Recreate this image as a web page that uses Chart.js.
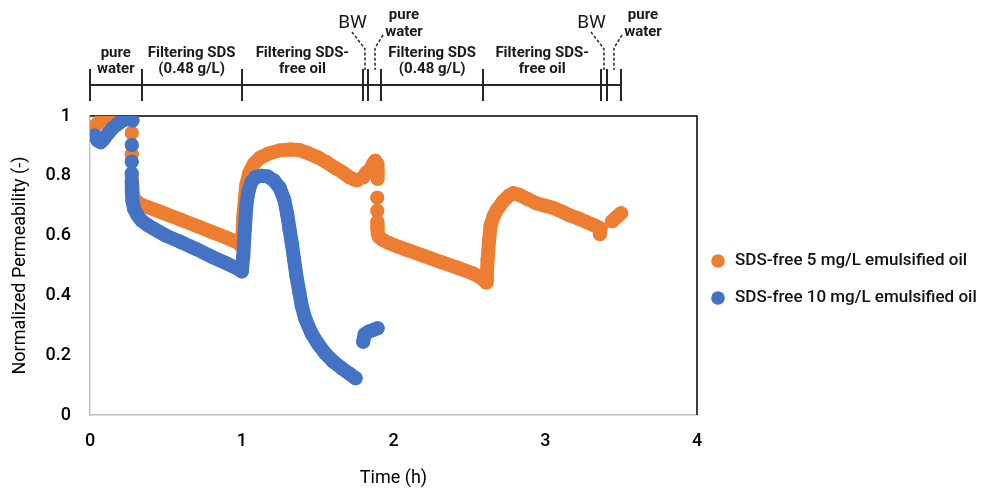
<!DOCTYPE html>
<html>
<head>
<meta charset="utf-8">
<script src="https://cdn.jsdelivr.net/npm/chart.js@4"></script>
<style>
  html, body { margin: 0; padding: 0; background: #fff; }
</style>
</head>
<body>
<canvas id="myChart" width="985" height="489"></canvas>
<script>
// time (h) and normalized permeability; null breaks the trace
const orangeTime = [
  0.01, 0.03, 0.05, 0.07, 0.09, 0.12, 0.15, 0.18, 0.21, 0.24, 0.26, null,
  0.275, null, 0.275, null,
  0.275, 0.277, 0.28, 0.29, 0.31, 0.34, 0.38, 0.43, 0.50, 0.60, 0.70, 0.80, 0.90, 0.97, 1.00,
  1.005, 1.01, 1.02, 1.03, 1.05, 1.08, 1.12, 1.18, 1.25, 1.32, 1.38, 1.44, 1.50, 1.56, 1.62,
  1.67, 1.71, 1.74, 1.76, null,
  1.80, 1.82, 1.845, 1.865, 1.88, 1.893, 1.895, 1.895, null,
  1.893, null, 1.893, null,
  1.893, 1.894, 1.897, 1.905, 1.93, 1.97, 2.03, 2.09, 2.20, 2.31, 2.42, 2.52, 2.58, 2.61,
  2.615, 2.62, 2.63, 2.64, 2.66, 2.68, 2.72, 2.76, 2.79, 2.83, 2.88, 2.94, 3.00, 3.05, 3.11,
  3.16, 3.22, 3.27, 3.32, 3.365, 3.36, null,
  3.44, 3.47, 3.50
];
const orangePerm = [
  0.95, 0.965, 0.975, 0.985, 0.99, 0.995, 1.0, 1.0, 1.0, 0.995, 0.99, null,
  0.943, null, 0.872, null,
  0.80, 0.77, 0.745, 0.725, 0.712, 0.703, 0.695, 0.686, 0.672, 0.653, 0.633, 0.613, 0.593, 0.578, 0.565,
  0.60, 0.66, 0.72, 0.77, 0.81, 0.84, 0.86, 0.875, 0.885, 0.888, 0.886, 0.875, 0.862, 0.845, 0.825,
  0.81, 0.795, 0.788, 0.785, null,
  0.795, 0.81, 0.82, 0.84, 0.85, 0.84, 0.815, 0.79, null,
  0.727, null, 0.683, null,
  0.646, 0.625, 0.607, 0.595, 0.585, 0.575, 0.563, 0.552, 0.532, 0.512, 0.493, 0.474, 0.458, 0.443,
  0.47, 0.52, 0.585, 0.635, 0.665, 0.685, 0.713, 0.733, 0.742, 0.736, 0.723, 0.708, 0.70, 0.693, 0.68,
  0.668, 0.657, 0.646, 0.635, 0.624, 0.605, null,
  0.648, 0.662, 0.675
];
const blueTime = [
  0.03, 0.05, 0.07, 0.09, 0.12, 0.15, 0.18, 0.21, 0.24, 0.27, 0.28, null,
  0.275, null, 0.275, null, 0.275, null,
  0.275, 0.276, 0.28, 0.29, 0.31, 0.34, 0.38, 0.43, 0.50, 0.60, 0.70, 0.80, 0.90, 0.97, 1.00,
  1.01, 1.02, 1.03, 1.045, 1.065, 1.09, 1.13, 1.17, 1.21, 1.25, 1.28, 1.30, 1.315, 1.33, 1.345,
  1.36, 1.38, 1.395, 1.42, 1.46, 1.50, 1.55, 1.60, 1.66, 1.71, 1.75, null,
  1.80, 1.81, 1.84, 1.87, 1.895
];
const bluePerm = [
  0.935, 0.918, 0.912, 0.922, 0.942, 0.96, 0.973, 0.983, 0.99, 0.99, 0.985, null,
  0.903, null, 0.847, null, 0.808, null,
  0.78, 0.745, 0.715, 0.69, 0.67, 0.65, 0.635, 0.62, 0.60, 0.578, 0.555, 0.53, 0.507, 0.49, 0.48,
  0.53, 0.62, 0.70, 0.75, 0.78, 0.795, 0.80, 0.798, 0.785, 0.76, 0.72, 0.67, 0.62, 0.574, 0.52,
  0.465, 0.41, 0.365, 0.32, 0.273, 0.24, 0.206, 0.18, 0.156, 0.138, 0.123, null,
  0.245, 0.27, 0.28, 0.285, 0.29
];
const seriesNames = ['SDS-free 5 mg/L emulsified oil', 'SDS-free 10 mg/L emulsified oil'];

// operating phases along the top (boundaries in h)
const phaseEdges = [0, 0.34, 1.0, 1.8, 1.83, 1.92, 2.59, 3.37, 3.41, 3.5];
const phaseNames = [
  ['pure', 'water'], ['Filtering SDS', '(0.48 g/L)'], ['Filtering SDS-', 'free oil'],
  ['BW'], ['pure', 'water'],
  ['Filtering SDS', '(0.48 g/L)'], ['Filtering SDS-', 'free oil'],
  ['BW'], ['pure', 'water']
];

const ORANGE = '#ED7D31';
const BLUE = '#4472C4';
const FONT = 'Roboto, "DejaVu Sans", sans-serif';

function toPoints(ts, vs) {
  return ts.map((t, i) => ({ x: t, y: vs[i] }));
}

// black top/right edges of the plot box
const plotFrame = {
  id: 'plotFrame',
  beforeDatasetsDraw(chart) {
    const { ctx, chartArea: a } = chart;
    ctx.save();
    ctx.strokeStyle = '#000';
    ctx.lineWidth = 1.5;
    ctx.beginPath();
    ctx.moveTo(a.left, a.top);
    ctx.lineTo(a.right, a.top);
    ctx.lineTo(a.right, a.bottom);
    ctx.stroke();
    ctx.restore();
  }
};

// phase timeline above the plot
const phaseBar = {
  id: 'phaseBar',
  afterDraw(chart) {
    const ctx = chart.ctx;
    const px = t => chart.scales.x.getPixelForValue(t);
    const lineY = 85;
    ctx.save();
    ctx.strokeStyle = '#262626';
    ctx.lineWidth = 2;
    ctx.beginPath();
    ctx.moveTo(px(phaseEdges[0]), lineY);
    ctx.lineTo(px(phaseEdges[phaseEdges.length - 1]), lineY);
    phaseEdges.forEach(t => {
      ctx.moveTo(Math.round(px(t)), 69);
      ctx.lineTo(Math.round(px(t)), 101);
    });
    ctx.stroke();

    ctx.fillStyle = '#1a1a1a';
    ctx.textAlign = 'center';
    ctx.textBaseline = 'middle';
    phaseNames.forEach((lines, i) => {
      const a = phaseEdges[i], b = phaseEdges[i + 1];
      const cx = (px(a) + px(b)) / 2;
      if (b - a > 0.2) {
        ctx.font = 'bold 15px ' + FONT;
        lines.forEach((s, k) => ctx.fillText(s, cx, 53 + k * 16));
        return;
      }
      const vx = Math.round(cx);
      ctx.lineWidth = 1.5;
      ctx.setLineDash([3, 2]);
      ctx.beginPath();
      if (lines[0] === 'BW') {
        ctx.moveTo(vx - 13, 32);
        ctx.lineTo(vx, 49);
      } else {
        ctx.moveTo(vx + 8, 35);
        ctx.lineTo(vx, 48);
      }
      ctx.lineTo(vx, 70);
      ctx.stroke();
      ctx.setLineDash([]);
      if (lines[0] === 'BW') {
        ctx.font = '19px ' + FONT;
        ctx.fillText(lines[0], vx - 12.5, 23);
      } else {
        ctx.font = 'bold 15px ' + FONT;
        lines.forEach((s, k) => ctx.fillText(s, vx + 29, 15 + k * 17));
      }
    });
    ctx.restore();
  }
};

// legend at the right of the plot
const sideLegend = {
  id: 'sideLegend',
  afterDraw(chart) {
    const ctx = chart.ctx;
    ctx.save();
    ctx.font = '500 17px ' + FONT;
    ctx.textBaseline = 'middle';
    ctx.textAlign = 'left';
    chart.data.datasets.forEach((ds, i) => {
      const y = 261 + i * 37;
      ctx.fillStyle = ds.backgroundColor;
      ctx.beginPath();
      ctx.arc(718, y, 6.8, 0, Math.PI * 2);
      ctx.fill();
      ctx.fillStyle = '#111';
      ctx.fillText(ds.label, 735, y);
    });
    ctx.restore();
  }
};

const tickFont = { family: FONT, size: 18, weight: '500' };
const titleFont = { family: FONT, size: 18 };

const ctx = document.getElementById('myChart').getContext('2d');
const chart = new Chart(ctx, {
  type: 'scatter',
  data: {
    datasets: [{
      label: seriesNames[0],
      data: toPoints(orangeTime, orangePerm),
      backgroundColor: ORANGE,
      borderColor: ORANGE,
      order: 1
    }, {
      label: seriesNames[1],
      data: toPoints(blueTime, bluePerm),
      backgroundColor: BLUE,
      borderColor: BLUE,
      order: 0
    }]
  },
  options: {
    responsive: false,
    animation: false,
    events: [],
    layout: { padding: { top: 116, right: 288, bottom: 0, left: 0 } },
    elements: {
      point: { radius: 7, borderWidth: 0, hoverRadius: 7 },
      line: { borderWidth: 14, borderCapStyle: 'round', borderJoinStyle: 'round', tension: 0 }
    },
    datasets: { scatter: { showLine: true, spanGaps: false } },
    scales: {
      x: {
        type: 'linear',
        min: 0,
        max: 4,
        ticks: { stepSize: 1, padding: 16, color: '#000', font: tickFont },
        grid: { display: false, drawTicks: false },
        border: { color: '#bfbfbf', width: 1.5 },
        title: { display: true, text: 'Time (h)', color: '#000', font: titleFont, padding: { top: 0, bottom: 0 } },
        afterFit: s => { s.height = 74; }
      },
      y: {
        min: 0,
        max: 1,
        ticks: {
          stepSize: 0.2,
          padding: 19,
          color: '#000',
          font: tickFont,
          callback: v => String(Number(v.toFixed(1)))
        },
        grid: { display: false, drawTicks: false },
        border: { color: '#bfbfbf', width: 1.5 },
        title: { display: true, text: 'Normalized Permeability (-)', color: '#000', font: titleFont, padding: { top: 10, bottom: 0 } },
        afterFit: s => { s.width = 90; }
      }
    },
    plugins: {
      legend: { display: false },
      tooltip: { enabled: false }
    }
  },
  plugins: [plotFrame, phaseBar, sideLegend]
});
</script>
</body>
</html>
